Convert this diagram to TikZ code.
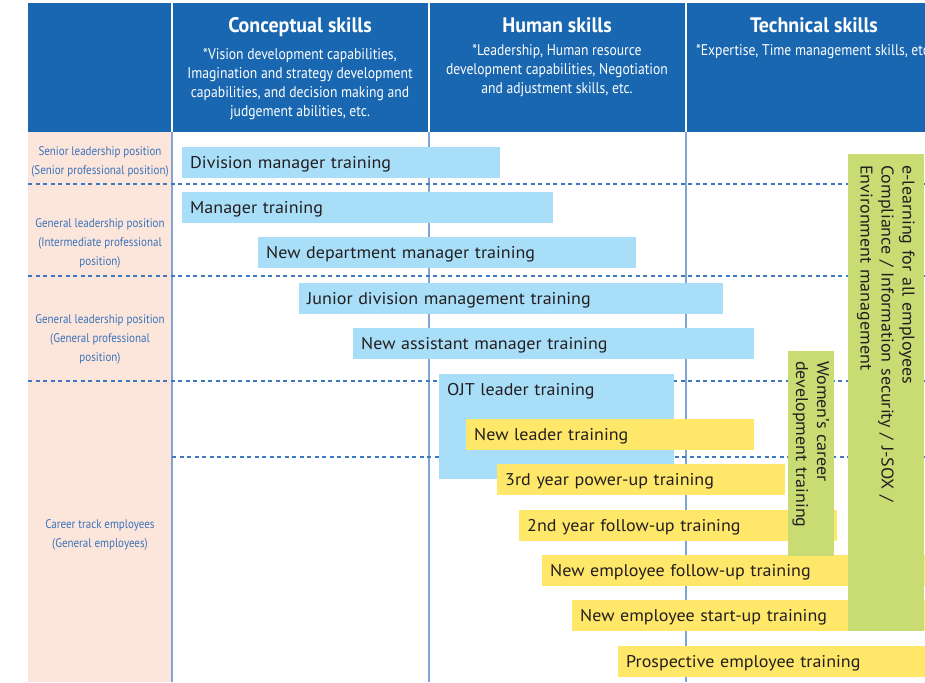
\documentclass[tikz,border=0pt]{standalone}
\usepackage{fontspec}
\setmainfont[FakeStretch=1.06]{PT Sans}
\newfontfamily\condensed[FakeStretch=0.88]{PT Sans}
\newfontfamily\headfont[FakeStretch=0.95]{PT Sans}
\usepackage{xcolor}
\usepackage{tikz}
\usetikzlibrary{positioning}

\definecolor{headblue}{HTML}{1A67B1}
\definecolor{rowpink}{HTML}{FCE5DB}
\definecolor{barblue}{HTML}{A9DEF9}
\definecolor{baryellow}{HTML}{FFE769}
\definecolor{bargreen}{HTML}{C9DC74}
\definecolor{colblue}{HTML}{7FA3D3}
\definecolor{dashblue}{HTML}{3E78BF}
\definecolor{labelblue}{HTML}{3A73B9}
\definecolor{bartext}{HTML}{231F20}

\begin{document}
\begin{tikzpicture}[
    x=1pt, y=-1pt,
    box/.style={rectangle, fill=#1, anchor=north west, inner ysep=0pt, align=left, text=bartext},
    bar/.style={box=#1, minimum height=31pt, inner xsep=8pt, text depth=0pt, font=\fontsize{17}{20}\selectfont},
    bar/.default=barblue,
    vbar/.style={box=bargreen, rotate=-90, inner xsep=10pt, font=\fontsize{17}{21}\selectfont},
    skillhead/.style={text=white, inner sep=0pt, anchor=base, font=\headfont\bfseries\fontsize{21}{24}\selectfont},
    skillnote/.style={text=white, inner sep=0pt, align=center, font=\condensed\fontsize{15.5}{19}\selectfont},
    rank/.style={text=labelblue, inner sep=0pt, align=center, font=\condensed\fontsize{12.5}{19}\selectfont},
    colline/.style={colblue, line width=1.3pt},
    rowsep/.style={dashblue, line width=1.1pt, dash pattern=on 4pt off 3.5pt}
]
\useasboundingbox (0,0) rectangle (925,682);
\clip (0,0) rectangle (925,682);

% Header band and position column
\fill[headblue] (28,3) rectangle (925,132);
\fill[rowpink] (28,132) rectangle (172,682);
\foreach \x in {172,429,686} {
    \draw[white, line width=1.5pt] (\x,3) -- (\x,132);
    \draw[colline] (\x,132) -- (\x,682);
}

% Row separators
\foreach \y in {184,276,381}
    \draw[rowsep] (28,\y) -- (925,\y);
\draw[rowsep] (172,457) -- (925,457);

% Skill headings
\node[skillhead] (concept) at (300,33) {Conceptual skills};
\node[skillnote, below=11pt of concept] (conceptnote) {*Vision development capabilities,\\Imagination and strategy development\\capabilities, and decision making and\\judgement abilities, etc.};
\node[skillhead] (human) at (557,33) {Human skills};
\node[skillnote, below=11pt of human] (humannote) {*Leadership, Human resource\\development capabilities, Negotiation\\and adjustment skills, etc.};
\node[skillhead] (technical) at (814,33) {Technical skills};
\node[skillnote, below=11pt of technical] (technote) {*Expertise, Time management skills, etc.};

% Positions
\node[rank] (senior) at (100,162) {Senior leadership position\\(Senior professional position)};
\node[rank] (genint) at (100,243) {General leadership position\\(Intermediate professional\\position)};
\node[rank] (gengen) at (100,339) {General leadership position\\(General professional\\position)};
\node[rank] (career) at (100,535) {Career track employees\\(General employees)};

% Management training
\node[bar, text width=302pt] (divmgr) at (182,147) {Division manager training};
\node[bar, text width=355pt] (mgr) at (182,192) {Manager training};
\node[bar, text width=362pt] (newdept) at (258,237) {New department manager training};
\node[bar, text width=408pt] (juniordiv) at (299,283) {Junior division management training};
\node[bar, text width=385pt] (newasst) at (353,328) {New assistant manager training};
\node[bar, text width=219pt] (ojt) at (439,374) {OJT leader training};
\fill[barblue] (ojt.south west) rectangle ++(235,74);

% Rank-and-file training
\node[bar=baryellow, text width=272pt] (newleader) at (466,419) {New leader training};
\node[bar=baryellow, text width=272pt] (thirdyr) at (497,464) {3rd year power-up training};
\node[bar=baryellow, text width=302pt] (secondyr) at (519,510) {2nd year follow-up training};
\node[bar=baryellow, text width=367pt] (nefollow) at (542,555) {New employee follow-up training};
\node[bar=baryellow, text width=337pt] (nestart) at (572,600) {New employee start-up training};
\node[bar=baryellow, text width=291pt] (prospect) at (618,646) {Prospective employee training};

% Cross-level programs
\node[vbar, minimum width=205pt, minimum height=46pt, text width=185pt] (women) at (834,351) {Women's career\\development training};
\node[vbar, minimum width=477pt, minimum height=76pt, inner xsep=11pt, text width=455pt] (elearn) at (924,154) {e-learning for all employees\\Compliance / Information security / J-SOX /\\Environment management};
\end{tikzpicture}
\end{document}
